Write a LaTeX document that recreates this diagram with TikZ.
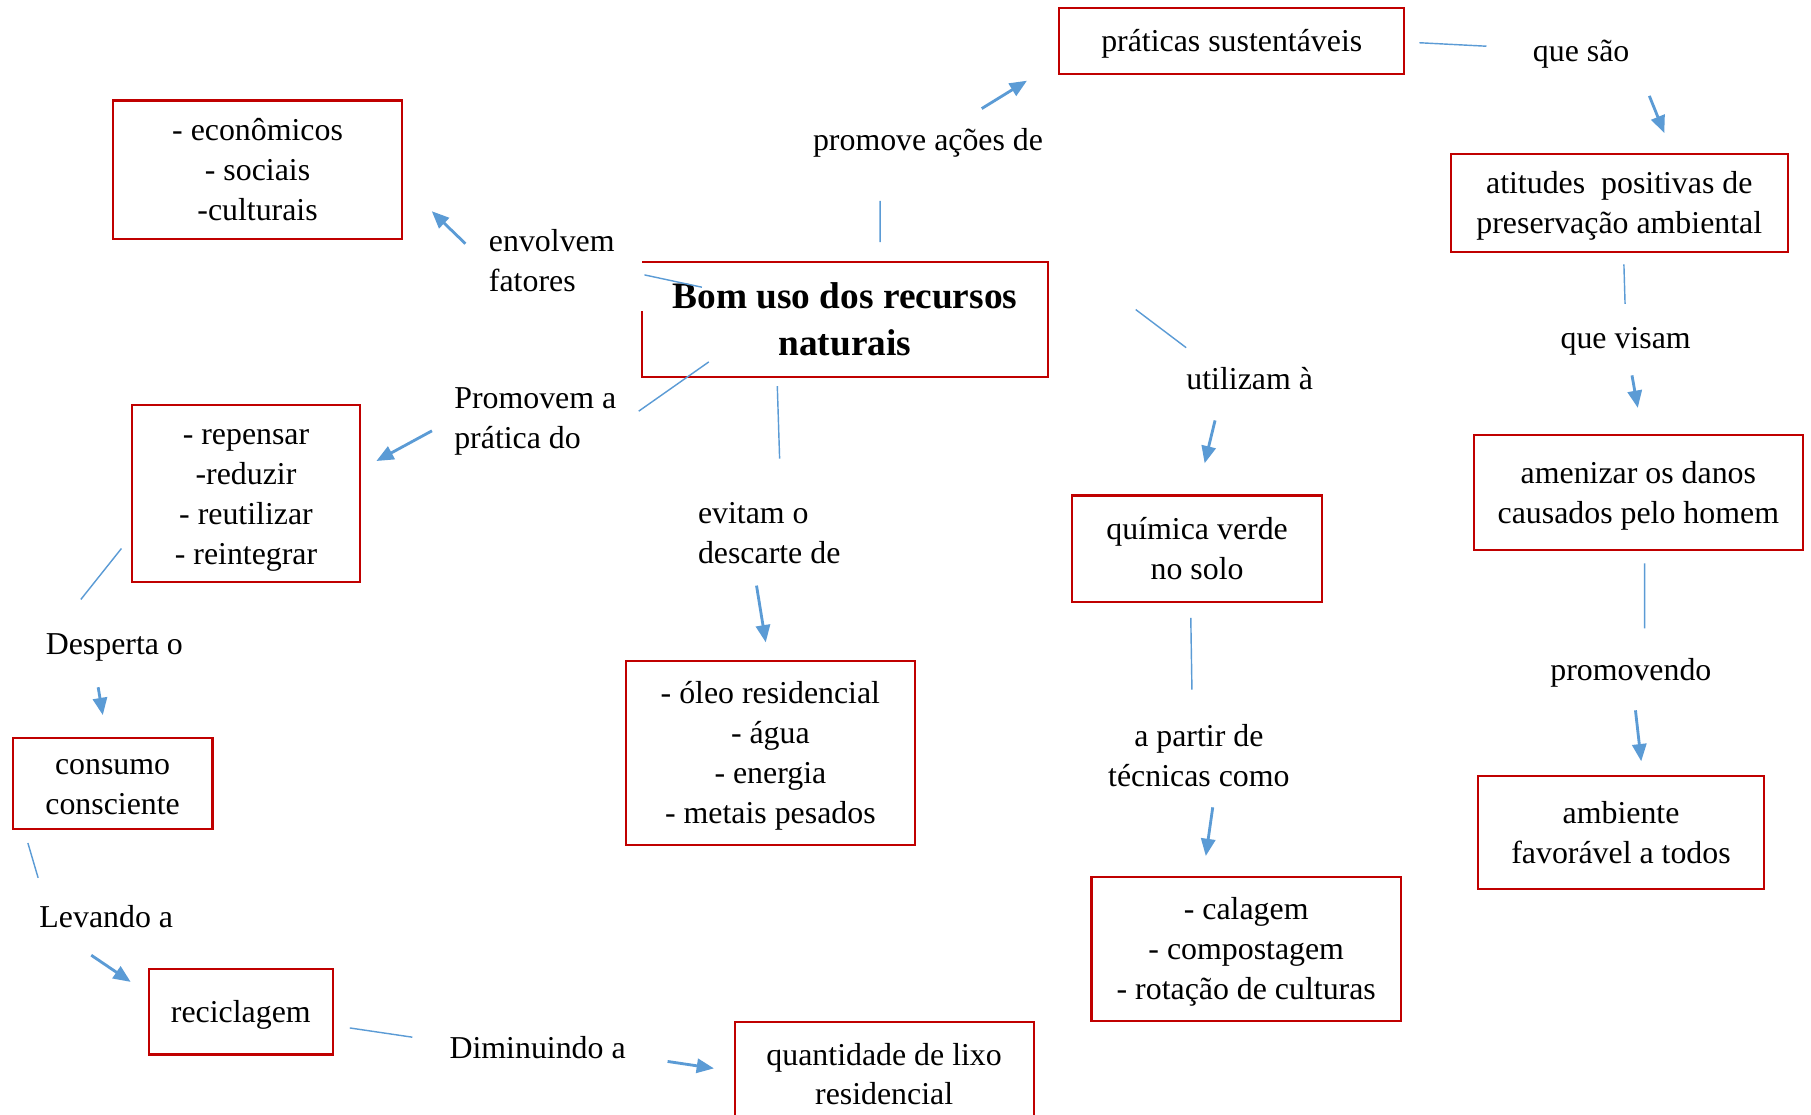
\documentclass[tikz,border=0pt]{standalone}
\usepackage{fontspec}
\setmainfont{Liberation Serif}
\usepackage{tikz}
\usetikzlibrary{arrows.meta}
\definecolor{boxred}{RGB}{192,0,0}
\definecolor{linkblue}{RGB}{91,155,213}
\newcommand{\lnstrut}{\rule[-4.5pt]{0pt}{19.7pt}}
\tikzset{
    topic/.style={
        align=center, inner sep=0pt,
        font=\fontsize{18.4}{22.8}\selectfont\bfseries
    },
    box/.style={
        draw=boxred, line width=1pt,
        align=center, inner sep=0pt,
        font=\fontsize{15.7}{19.7}\selectfont,
        execute at end node=\lnstrut
    },
    word/.style={
        inner sep=0pt, align=left,
        font=\fontsize{15.7}{19.7}\selectfont,
        execute at end node=\lnstrut
    },
    link/.style={draw=linkblue, line width=0.7pt},
    flow/.style={draw=linkblue, line width=1.4pt, -{Triangle[length=8.5pt,width=7pt]}}
}

\begin{document}
\begin{tikzpicture}[x=0.02cm, y=-0.02cm]

                        \useasboundingbox (0,0) rectangle (1568,965);

                        % Boxes
                        \node[topic, minimum width=7.02cm, minimum height=1.98cm] (bomuso) at (731.5,276.5) {Bom uso dos recursos\\naturais};
                        \draw[boxred, line width=1pt] ([shift={(0,43)}]bomuso.north west) |- (bomuso.south east) |- (bomuso.north west);
                        \node[box, minimum width=5.98cm, minimum height=1.14cm] (praticas) at (1066.5,35.5) {práticas sustentáveis};
                        \node[box, minimum width=5cm, minimum height=2.4cm] (fatores) at (223,147) {\lnstrut- econômicos\\- sociais\\-culturais};
                        \node[box, minimum width=3.96cm, minimum height=3.06cm] (erres) at (213,427.5) {\lnstrut- repensar\\-reduzir\\- reutilizar\\- reintegrar};
                        \node[box, minimum width=3.46cm, minimum height=1.58cm] (consumo) at (97.5,678.5) {\lnstrut consumo\\consciente};
                        \node[box, minimum width=3.18cm, minimum height=1.48cm] (reciclagem) at (208.5,876) {reciclagem};
                        \node[box, minimum width=5.18cm, minimum height=1.8cm] (lixo) at (765.5,930) {\lnstrut quantidade de lixo\\residencial};
                        \node[box, minimum width=5cm, minimum height=3.2cm] (descarte) at (667,652) {\lnstrut- óleo residencial\\- água\\- energia\\- metais pesados};
                        \node[box, minimum width=4.34cm, minimum height=1.84cm] (quimica) at (1036.5,475) {\lnstrut química verde\\no solo};
                        \node[box, minimum width=5.36cm, minimum height=2.5cm] (tecnicas) at (1079,821.5) {\lnstrut- calagem\\- compostagem\\- rotação de culturas};
                        \node[box, minimum width=5.84cm, minimum height=1.7cm] (atitudes) at (1402,175.5) {\lnstrut atitudes\ \ positivas de\\preservação ambiental};
                        \node[box, minimum width=5.7cm, minimum height=1.98cm] (danos) at (1418.5,426.5) {\lnstrut amenizar os danos\\causados pelo homem};
                        \node[box, minimum width=4.94cm, minimum height=1.96cm] (ambiente) at (1403.5,721) {\lnstrut ambiente\\favorável a todos};

                        % Linking words
                        \node[word] (promove) at (803.5,121) {promove ações de};
                        \node[word, anchor=west] (envolvem) at (423,226) {\lnstrut envolvem\\fatores};
                        \node[word, anchor=west] (promovem) at (393,361.5) {\lnstrut Promovem a\\prática do};
                        \node[word, anchor=west] (evitam) at (604,461) {\lnstrut evitam o\\descarte de};
                        \node[word] (utilizam) at (1082,328) {utilizam à};
                        \node[word, align=center] (apartir) at (1038,654) {\lnstrut a partir de\\técnicas como};
                        \node[word] (quesao) at (1369,44) {que são};
                        \node[word] (quevisam) at (1407.5,292) {que visam};
                        \node[word] (promovendo) at (1412,580) {promovendo};
                        \node[word] (desperta) at (99,557) {Desperta o};
                        \node[word] (levando) at (92,794) {Levando a};
                        \node[word] (diminuindo) at (465.5,907) {Diminuindo a};

                        % Lines
                        \draw[link] ([shift={(30.5,-17)}]bomuso.north) -- ([shift={(-41.5,53)}]promove.center);
                        \draw[flow] ([shift={(46.5,-27)}]promove.center) -- ([shift={(-27,5)}]praticas.south west);

                        \draw[link] ([shift={(52,22)}]bomuso.north west) -- ([shift={(135,12)}]envolvem.west);
                        \draw[flow] ([shift={(-20,-15)}]envolvem.west) -- ([shift={(25,-25)}]fatores.south east);

                        \draw[link] ([shift={(58,-13)}]bomuso.south west) -- ([shift={(160,-5.5)}]promovem.west);
                        \draw[flow] ([shift={(-19,11.5)}]promovem.west) -- ([shift={(13,49)}]erres.north east);

                        \draw[link] ([shift={(-58.5,8)}]bomuso.south) -- ([shift={(71,-64)}]evitam.west);
                        \draw[flow] ([shift={(51,46)}]evitam.west) -- ([shift={(-4,-15)}]descarte.north);

                        \draw[link] ([shift={(76,-8.5)}]bomuso.east) -- ([shift={(-55,-27)}]utilizam.center);
                        \draw[flow] ([shift={(-30,36)}]utilizam.center) -- ([shift={(6.5,-27)}]quimica.north);

                        \draw[link] ([shift={(-5.5,13)}]quimica.south) -- ([shift={(-6,-57)}]apartir.center);
                        \draw[flow] ([shift={(12,45)}]apartir.center) -- ([shift={(-35,-17)}]tecnicas.north);

                        \draw[link] ([shift={(12,1.5)}]praticas.east) -- ([shift={(-82,-4)}]quesao.center);
                        \draw[flow] ([shift={(59,39)}]quesao.center) -- ([shift={(39,-17)}]atitudes.north);

                        \draw[link] ([shift={(4,10)}]atitudes.south) -- ([shift={(-0.5,-29)}]quevisam.center);
                        \draw[flow] ([shift={(5.5,33)}]quevisam.center) -- ([shift={(-0.5,-23)}]danos.north);

                        \draw[link] ([shift={(5.5,11)}]danos.south) -- ([shift={(12,-36)}]promovendo.center);
                        \draw[flow] ([shift={(4,35)}]promovendo.center) -- ([shift={(17.5,-12)}]ambiente.north);

                        \draw[link] ([shift={(-8,-30)}]erres.south west) -- ([shift={(-29,-38)}]desperta.center);
                        \draw[flow] ([shift={(-14,38)}]desperta.center) -- ([shift={(-8.5,-19)}]consumo.north);

                        \draw[link] ([shift={(14,11)}]consumo.south west) -- ([shift={(-59,-34)}]levando.center);
                        \draw[flow] ([shift={(-13,33)}]levando.center) -- ([shift={(-15,12)}]reciclagem.north west);

                        \draw[link] ([shift={(14,14)}]reciclagem.east) -- ([shift={(-108.5,-9)}]diminuindo.center);
                        \draw[flow] ([shift={(112.5,12)}]diminuindo.center) -- ([shift={(-17,-5)}]lixo.west);

                    \end{tikzpicture}
\end{document}
